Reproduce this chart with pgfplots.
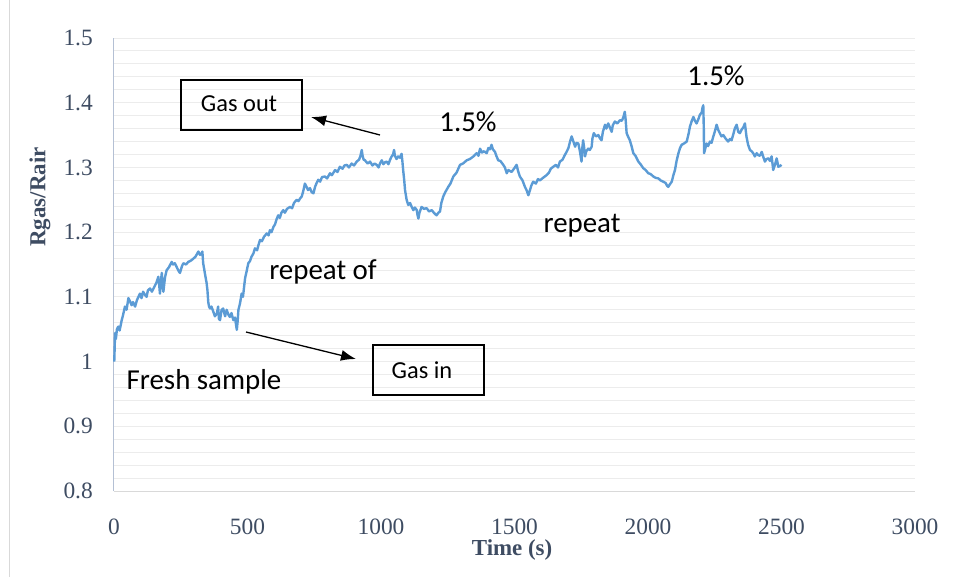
\documentclass[border=0pt]{standalone}
\usepackage{pgfplots}
\pgfplotsset{compat=1.18}
\usepackage{fontspec}
\setmainfont{Liberation Serif}
\newfontfamily\calibri{Carlito}
\usetikzlibrary{arrows.meta}
\definecolor{excelblue}{RGB}{91,155,213}
\definecolor{labgray}{RGB}{62,76,98}
\definecolor{gridgray}{RGB}{236,236,236}
\definecolor{yaxisc}{RGB}{180,192,212}
\definecolor{xaxisc}{RGB}{217,217,217}
\begin{document}
\begin{tikzpicture}
\useasboundingbox (0,0) rectangle (959bp,-577bp);
\draw[line width=1bp, xaxisc] (9bp,0) -- (9bp,-577bp);
\begin{axis}[
  at={(114bp,-491bp)}, anchor=south west,
  scale only axis, width=801bp, height=453bp,
  xmin=0, xmax=3000, ymin=0.8, ymax=1.5,
  xtick={0,500,...,3000}, ytick={0.8,0.9,1.0,1.1,1.2,1.3,1.4,1.5},
  yticklabels={0.8,0.9,1,1.1,1.2,1.3,1.4,1.5},
  minor y tick num=4,
  ymajorgrids, yminorgrids,
  major grid style={gridgray, line width=1bp},
  minor grid style={gridgray, line width=1bp},
  axis x line*=bottom, axis y line*=left,
  x axis line style={xaxisc, line width=1bp, -},
  y axis line style={yaxisc, line width=1bp, -},
  major tick length=0pt, minor tick length=0pt,
  /pgf/number format/assume math mode=true,
  scaled x ticks=false,
  xticklabel style={font=\fontsize{23.5}{27}\selectfont, text=labgray, inner sep=0pt, anchor=center, yshift=-35.5bp},
  yticklabel style={font=\fontsize{23.5}{27}\selectfont, text=labgray, inner sep=0pt, anchor=east, xshift=-21bp},
  xticklabel={\pgfmathprintnumber[fixed,1000 sep={}]{\tick}},
  xlabel={Time (s)}, ylabel={Rgas/Rair},
  xlabel style={font=\bfseries\fontsize{23}{27}\selectfont, text=labgray, at={(rel axis cs:0.497,0)}, anchor=center, yshift=-59bp, inner sep=0pt},
  ylabel style={font=\bfseries\fontsize{23}{27}\selectfont, text=labgray, at={(rel axis cs:0,0.649)}, anchor=center, yshift=74bp, inner sep=0pt},
  clip=false,
]
\addplot[excelblue, line width=2.4bp, line join=round] coordinates {
(1,1.000)(4,1.044)(7,1.035)(11,1.050)(16,1.054)(21,1.048)(29,1.064)(34,1.072)(41,1.085)(47,1.080)
(54,1.098)(60,1.093)(66,1.087)(71,1.092)(79,1.085)(86,1.095)(97,1.105)(103,1.098)(109,1.108)(116,1.103)
(122,1.100)(127,1.110)(135,1.113)(142,1.108)(154,1.118)(159,1.122)(166,1.131)(169,1.120)(172,1.105)(176,1.125)
(179,1.137)(182,1.118)(185,1.108)(191,1.130)(197,1.141)(206,1.146)(216,1.154)(221,1.150)(228,1.152)(236,1.145)
(242,1.140)(247,1.137)(255,1.148)(260,1.152)(270,1.150)(278,1.154)(288,1.156)(297,1.159)(305,1.162)(316,1.170)
(322,1.165)(328,1.167)(331,1.170)(334,1.152)(341,1.135)(347,1.121)(350,1.110)(353,1.092)(356,1.085)(360,1.082)
(365,1.085)(372,1.077)(378,1.070)(385,1.074)(390,1.085)(393,1.066)(397,1.064)(403,1.080)(409,1.082)(416,1.070)
(422,1.080)(429,1.072)(434,1.069)(440,1.075)(447,1.064)(453,1.068)(460,1.049)(463,1.062)(466,1.080)(472,1.090)
(478,1.105)(483,1.100)(491,1.129)(497,1.140)(503,1.152)(509,1.155)(515,1.162)(522,1.167)(528,1.175)(536,1.172)
(541,1.180)(547,1.188)(554,1.186)(562,1.193)(572,1.198)(579,1.195)(584,1.203)(590,1.200)(597,1.208)(603,1.212)
(609,1.220)(615,1.226)(621,1.222)(627,1.230)(634,1.234)(640,1.230)(648,1.236)(659,1.239)(667,1.237)(674,1.245)
(684,1.250)(691,1.248)(697,1.252)(703,1.255)(708,1.262)(715,1.275)(721,1.270)(727,1.265)(734,1.268)(740,1.262)
(747,1.260)(753,1.270)(759,1.276)(765,1.281)(772,1.278)(779,1.285)(790,1.286)(798,1.283)(809,1.291)(816,1.288)
(828,1.296)(837,1.293)(846,1.301)(856,1.298)(863,1.303)(872,1.304)(880,1.300)(890,1.306)(899,1.303)(909,1.309)
(918,1.312)(923,1.318)(928,1.327)(931,1.318)(935,1.312)(940,1.311)(950,1.306)(959,1.309)(968,1.303)(976,1.306)
(984,1.304)(991,1.300)(996,1.306)(1003,1.311)(1009,1.305)(1015,1.308)(1021,1.309)(1028,1.305)(1034,1.312)(1040,1.317)
(1045,1.320)(1049,1.327)(1052,1.318)(1058,1.313)(1064,1.317)(1071,1.315)(1077,1.321)(1080,1.310)(1083,1.296)(1087,1.280)
(1090,1.265)(1096,1.250)(1102,1.242)(1109,1.245)(1115,1.239)(1121,1.234)(1127,1.238)(1134,1.234)(1137,1.226)(1140,1.221)
(1144,1.230)(1152,1.239)(1161,1.236)(1171,1.237)(1180,1.232)(1190,1.234)(1198,1.230)(1208,1.226)(1215,1.230)(1221,1.232)
(1226,1.245)(1233,1.255)(1241,1.262)(1252,1.270)(1260,1.275)(1271,1.286)(1283,1.292)(1296,1.304)(1307,1.306)(1321,1.311)
(1333,1.313)(1346,1.317)(1358,1.322)(1365,1.318)(1371,1.329)(1378,1.323)(1386,1.325)(1396,1.322)(1402,1.330)(1408,1.328)
(1414,1.335)(1419,1.328)(1427,1.324)(1432,1.318)(1439,1.311)(1447,1.310)(1458,1.304)(1464,1.300)(1471,1.291)(1477,1.296)
(1489,1.293)(1498,1.298)(1508,1.304)(1513,1.295)(1520,1.286)(1530,1.280)(1539,1.270)(1545,1.265)(1552,1.257)(1558,1.265)
(1563,1.272)(1570,1.278)(1580,1.275)(1588,1.282)(1595,1.280)(1607,1.284)(1620,1.288)(1629,1.292)(1636,1.298)(1645,1.301)
(1655,1.304)(1663,1.300)(1670,1.309)(1680,1.312)(1687,1.318)(1695,1.324)(1702,1.330)(1708,1.340)(1714,1.348)(1719,1.342)
(1727,1.332)(1732,1.338)(1739,1.337)(1745,1.325)(1751,1.309)(1754,1.330)(1757,1.342)(1761,1.330)(1764,1.317)(1769,1.325)
(1776,1.329)(1782,1.327)(1789,1.332)(1792,1.345)(1797,1.353)(1805,1.348)(1814,1.350)(1820,1.345)(1826,1.342)(1831,1.355)
(1839,1.366)(1844,1.360)(1851,1.368)(1857,1.362)(1864,1.355)(1868,1.365)(1876,1.371)(1885,1.368)(1895,1.373)(1902,1.372)
(1908,1.378)(1913,1.386)(1916,1.375)(1920,1.353)(1925,1.348)(1932,1.342)(1939,1.332)(1945,1.322)(1953,1.318)(1964,1.309)
(1972,1.305)(1982,1.299)(1991,1.296)(2001,1.291)(2009,1.290)(2020,1.286)(2028,1.284)(2039,1.283)(2047,1.280)(2057,1.278)
(2066,1.276)(2071,1.272)(2076,1.270)(2082,1.274)(2089,1.278)(2095,1.288)(2101,1.296)(2107,1.310)(2114,1.322)(2120,1.330)
(2126,1.335)(2135,1.337)(2145,1.340)(2152,1.352)(2157,1.363)(2164,1.372)(2170,1.378)(2176,1.372)(2182,1.368)(2189,1.375)
(2194,1.381)(2201,1.385)(2204,1.392)(2207,1.396)(2209,1.360)(2210,1.322)(2215,1.330)(2219,1.337)(2225,1.333)(2232,1.340)
(2238,1.338)(2244,1.347)(2250,1.355)(2257,1.366)(2263,1.358)(2269,1.353)(2275,1.348)(2282,1.350)(2290,1.345)(2300,1.340)
(2307,1.344)(2313,1.342)(2320,1.352)(2325,1.360)(2332,1.366)(2338,1.355)(2344,1.353)(2350,1.358)(2357,1.362)(2363,1.368)
(2369,1.347)(2375,1.335)(2382,1.327)(2388,1.325)(2394,1.322)(2400,1.317)(2407,1.322)(2413,1.319)(2419,1.318)(2426,1.324)
(2432,1.316)(2438,1.309)(2444,1.313)(2451,1.314)(2457,1.310)(2463,1.317)(2469,1.296)(2476,1.305)(2482,1.314)(2488,1.301)
(2494,1.302)(2500,1.304)
};
\end{axis}
\begin{scope}[x=1bp, y=-1bp]
  \draw[line width=1.5bp] (181,80) rectangle (302,130);
  \node[font=\calibri\fontsize{24.5}{28}\selectfont] at (239,104) {Gas out};
  \draw[line width=1.5bp] (373,345) rectangle (484,395);
  \node[font=\calibri\fontsize{24.5}{28}\selectfont] at (422,370) {Gas in};
  \draw[line width=1.3bp, -{Latex[length=15bp,width=11bp]}] (380,135) -- (311,117);
  \draw[line width=1.3bp, -{Latex[length=15bp,width=11bp]}] (246,332) -- (356,359);
  \node[font=\calibri\fontsize{29}{34}\selectfont] at (468,122) {1.5\%};
  \node[font=\calibri\fontsize{29}{34}\selectfont] at (716,76) {1.5\%};
  \node[font=\calibri\fontsize{29}{34}\selectfont] at (582,226) {repeat};
  \node[font=\calibri\fontsize{29}{34}\selectfont] at (323,272) {repeat of};
  \node[font=\calibri\fontsize{29}{34}\selectfont] at (204,382) {Fresh sample};
\end{scope}
\end{tikzpicture}
\end{document}
